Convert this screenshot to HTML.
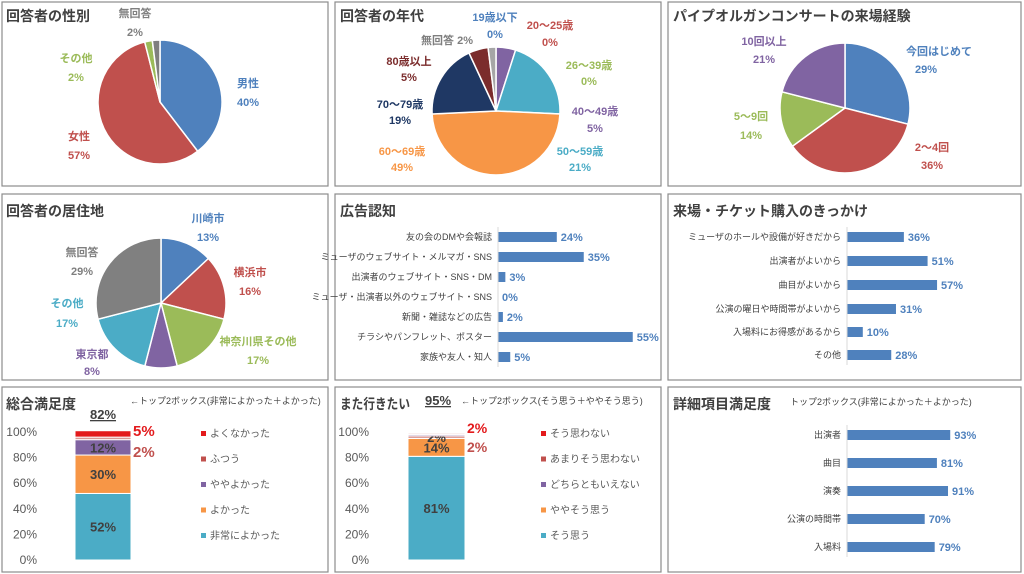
<!DOCTYPE html>
<html><head><meta charset="utf-8"><style>
body{margin:0;background:#fff;}
svg{display:block;font-family:"Liberation Sans","Noto Sans CJK JP",sans-serif;}
.t{font-size:14px;font-weight:bold;fill:#404040}
.s{font-size:9px;fill:#404040}
.b{font-size:11px;font-weight:bold}
</style></head><body>
<svg id="g" width="1024" height="574" viewBox="0 0 1024 574">
<g fill="#fff" stroke="#8c8c8c" stroke-width="1.2">
<rect x="2" y="2" width="326" height="184"/><rect x="335" y="2" width="326" height="184"/><rect x="668" y="2" width="353" height="184"/>
<rect x="2" y="194" width="326" height="186"/><rect x="335" y="194" width="326" height="186"/><rect x="668" y="194" width="353" height="186"/>
<rect x="2" y="387" width="326" height="185"/><rect x="335" y="387" width="326" height="185"/><rect x="668" y="387" width="353" height="185"/>
</g>
<text class="t" x="6" y="21">回答者の性別</text>
<text class="t" x="340" y="21">回答者の年代</text>
<text class="t" x="673" y="21">パイプオルガンコンサートの来場経験</text>
<text class="t" x="6" y="216">回答者の居住地</text>
<text class="t" x="340" y="216">広告認知</text>
<text class="t" x="673" y="216">来場・チケット購入のきっかけ</text>
<text class="t" x="6" y="409">総合満足度</text>
<text class="t" x="340" y="409" textLength="70" lengthAdjust="spacingAndGlyphs">また行きたい</text>
<text class="t" x="673" y="409">詳細項目満足度</text>
<g id="pies"></g>
<g class="b" text-anchor="middle">
<text x="135" y="17" fill="#7f7f7f">無回答</text><text x="135" y="36" fill="#7f7f7f">2%</text>
<text x="76" y="62" fill="#9bbb59">その他</text><text x="76" y="81" fill="#9bbb59">2%</text>
<text x="248" y="87" fill="#4f81bd">男性</text><text x="248" y="106" fill="#4f81bd">40%</text>
<text x="79" y="140" fill="#c0504d">女性</text><text x="79" y="159" fill="#c0504d">57%</text>

<text x="495" y="21" fill="#4f81bd">19歳以下</text><text x="495" y="38" fill="#4f81bd">0%</text>
<text x="550" y="29" fill="#c0504d">20～25歳</text><text x="550" y="46" fill="#c0504d">0%</text>
<text x="589" y="69" fill="#9bbb59">26～39歳</text><text x="589" y="85" fill="#9bbb59">0%</text>
<text x="595" y="115" fill="#8064a2">40～49歳</text><text x="595" y="132" fill="#8064a2">5%</text>
<text x="580" y="155" fill="#4bacc6">50～59歳</text><text x="580" y="171" fill="#4bacc6">21%</text>
<text x="402" y="155" fill="#f79646">60～69歳</text><text x="402" y="171" fill="#f79646">49%</text>
<text x="400" y="108" fill="#1f3864">70～79歳</text><text x="400" y="124" fill="#1f3864">19%</text>
<text x="409" y="65" fill="#7b2c2c">80歳以上</text><text x="409" y="81" fill="#7b2c2c">5%</text>
<text x="447" y="44" fill="#7f7f7f">無回答 2%</text>

<text x="939" y="55" fill="#4f81bd">今回はじめて</text><text x="926" y="73" fill="#4f81bd">29%</text>
<text x="932" y="151" fill="#c0504d">2～4回</text><text x="932" y="169" fill="#c0504d">36%</text>
<text x="751" y="120" fill="#9bbb59">5～9回</text><text x="751" y="139" fill="#9bbb59">14%</text>
<text x="764" y="45" fill="#8064a2">10回以上</text><text x="764" y="63" fill="#8064a2">21%</text>

<text x="208" y="222" fill="#4f81bd">川崎市</text><text x="208" y="241" fill="#4f81bd">13%</text>
<text x="250" y="276" fill="#c0504d">横浜市</text><text x="250" y="295" fill="#c0504d">16%</text>
<text x="258" y="345" fill="#9bbb59">神奈川県その他</text><text x="258" y="364" fill="#9bbb59">17%</text>
<text x="92" y="358" fill="#8064a2">東京都</text><text x="92" y="375" fill="#8064a2">8%</text>
<text x="67" y="307" fill="#4bacc6">その他</text><text x="67" y="327" fill="#4bacc6">17%</text>
<text x="82" y="256" fill="#7f7f7f">無回答</text><text x="82" y="275" fill="#7f7f7f">29%</text>
</g>
<g id="bars"></g>
<g id="stk"></g>
<text class="s" x="130" y="404">←トップ2ボックス(非常によかった＋よかった)</text>
<text x="103" y="419" text-anchor="middle" font-size="13" font-weight="bold" fill="#404040" text-decoration="underline">82%</text>
<text x="133" y="436" font-size="15" font-weight="bold" fill="#e31a1c">5%</text>
<text x="133" y="457" font-size="15" font-weight="bold" fill="#c0504d">2%</text>
<text x="438" y="405" font-size="13" font-weight="bold" fill="#404040" text-decoration="underline" text-anchor="middle">95%</text>
<text class="s" x="461" y="404">←トップ2ボックス(そう思う＋ややそう思う)</text>
<text x="467" y="433" font-size="14" font-weight="bold" fill="#e31a1c">2%</text>
<text x="467" y="452" font-size="14" font-weight="bold" fill="#c0504d">2%</text>
<text class="s" x="790" y="405">トップ2ボックス(非常によかった＋よかった)</text>
</svg>
<script>
const NS="http://www.w3.org/2000/svg";
function el(p,tag,a,txt){const e=document.createElementNS(NS,tag);for(const k in a)e.setAttribute(k,a[k]);if(txt!=null)e.textContent=txt;p.appendChild(e);return e;}
const pies=document.getElementById('pies');
function pie(cx,cy,r,data){let tot=data.reduce((s,d)=>s+d[0],0),a=0;
for(const [v,c] of data){if(!v)continue;const a0=a/tot*2*Math.PI,a1=(a+v)/tot*2*Math.PI;a+=v;
const x0=cx+r*Math.sin(a0),y0=cy-r*Math.cos(a0),x1=cx+r*Math.sin(a1),y1=cy-r*Math.cos(a1);
el(pies,'path',{d:`M${cx},${cy}L${x0},${y0}A${r},${r} 0 ${a1-a0>Math.PI?1:0} 1 ${x1},${y1}Z`,fill:c,stroke:'#fff','stroke-width':1.5});}}
pie(160,102,62,[[40,'#4f81bd'],[57,'#c0504d'],[2,'#9bbb59'],[2,'#7f7f7f']]);
pie(496,111,64,[[5,'#8064a2'],[21,'#4bacc6'],[49,'#f79646'],[19,'#1f3864'],[5,'#7b2c2c'],[2,'#a6a6a6']]);
pie(845,108,65,[[29,'#4f81bd'],[36,'#c0504d'],[14,'#9bbb59'],[21,'#8064a2']]);
pie(161,303,65,[[13,'#4f81bd'],[16,'#c0504d'],[17,'#9bbb59'],[8,'#8064a2'],[17,'#4bacc6'],[29,'#808080']]);
const bars=document.getElementById('bars');
function hbar(x0,k,rows){for(const [lab,v,y] of rows){
el(bars,'text',{x:x0-6,y:y+3,'text-anchor':'end','font-size':9,fill:'#404040'},lab);
const w=Math.max(v*k,0);el(bars,'rect',{x:x0,y:y-5,width:w,height:10,fill:'#4f81bd'});
el(bars,'text',{x:x0+w+4,y:y+4,'font-size':11,'font-weight':'bold',fill:'#4f81bd'},v+'%');}
el(bars,'line',{x1:x0,x2:x0,y1:rows[0][2]-10,y2:rows[rows.length-1][2]+10,stroke:'#d9d9d9'});}
hbar(498,2.45,[['友の会のDMや会報誌',24,237],['ミューザのウェブサイト・メルマガ・SNS',35,257],['出演者のウェブサイト・SNS・DM',3,277],['ミューザ・出演者以外のウェブサイト・SNS',0,297],['新聞・雑誌などの広告',2,317],['チラシやパンフレット、ポスター',55,337],['家族や友人・知人',5,357]]);
hbar(847,1.58,[['ミューザのホールや設備が好きだから',36,237],['出演者がよいから',51,261],['曲目がよいから',57,285],['公演の曜日や時間帯がよいから',31,309],['入場料にお得感があるから',10,332],['その他',28,355]]);
hbar(847,1.11,[['出演者',93,435],['曲目',81,463],['演奏',91,491],['公演の時間帯',70,519],['入場料',79,547]]);
const stk=document.getElementById('stk');
function axis(x){['100%','80%','60%','40%','20%','0%'].forEach((t,i)=>el(stk,'text',{x:x,y:436+i*25.6,'text-anchor':'end','font-size':12,fill:'#595959'},t));}
function stack(x,w,segs,leg,lx){let y=560;for(const [v,c,lab] of segs){const h=v*1.28;y-=h;
el(stk,'rect',{x:x,y:y,width:w,height:h,fill:c,stroke:'#fff','stroke-width':1});
if(lab)el(stk,'text',{x:x+w/2,y:y+h/2+5,'text-anchor':'middle','font-size':13,'font-weight':'bold',fill:'#404040'},lab);}
leg.forEach(([c,t],i)=>{el(stk,'rect',{x:lx,y:431+i*25.5,width:5,height:5,fill:c});el(stk,'text',{x:lx+9,y:437+i*25.5,'font-size':10,fill:'#595959'},t);});}
axis(37);axis(369);
stack(75,56,[[52,'#4bacc6','52%'],[30,'#f79646','30%'],[12,'#8064a2','12%'],[2,'#d99694'],[5,'#e31a1c']],[['#e31a1c','よくなかった'],['#c0504d','ふつう'],['#8064a2','ややよかった'],['#f79646','よかった'],['#4bacc6','非常によかった']],201);
stack(408,57,[[81,'#4bacc6','81%'],[14,'#f79646','14%'],[2,'#d99694','2%'],[1,'#8064a2'],[1,'#e6b9b8']],[['#e31a1c','そう思わない'],['#c0504d','あまりそう思わない'],['#8064a2','どちらともいえない'],['#f79646','ややそう思う'],['#4bacc6','そう思う']],541);
</script>
</body></html>
